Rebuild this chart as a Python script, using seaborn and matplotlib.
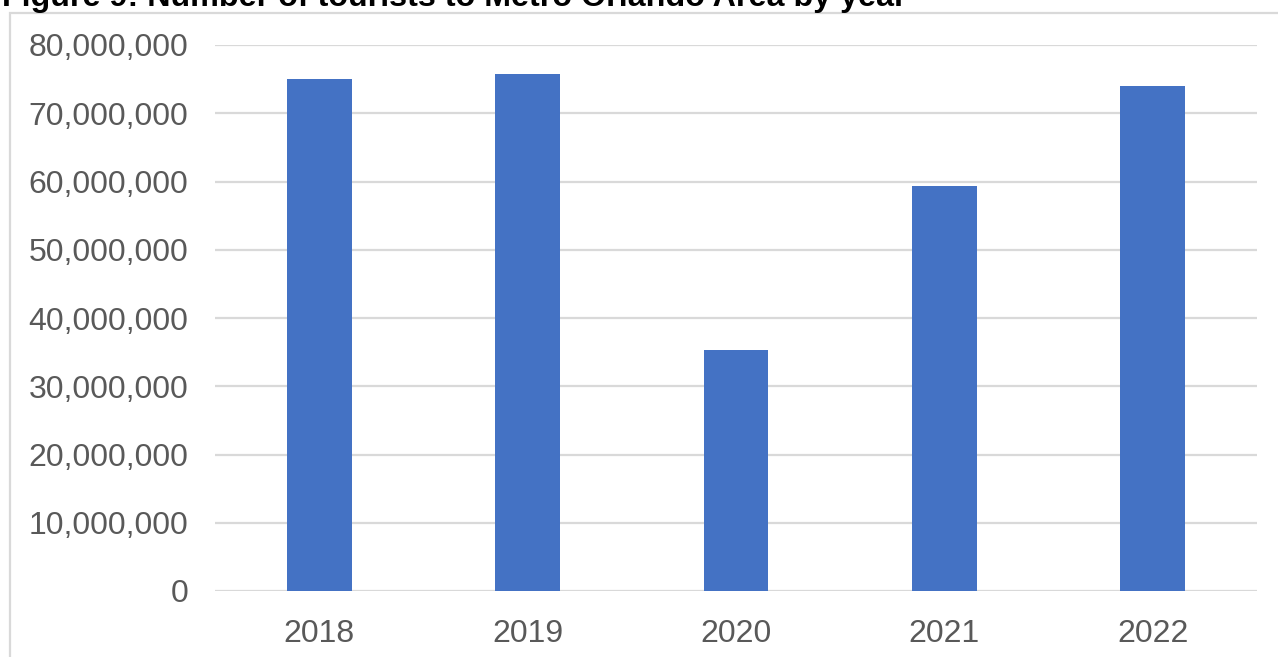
import matplotlib
matplotlib.use("Agg")
import matplotlib.pyplot as plt
import matplotlib.patches as mpatches
from matplotlib.ticker import FuncFormatter
import seaborn as sns
import pandas as pd

years = ["2018", "2019", "2020", "2021", "2022"]
tourists = [75_000_000, 75_800_000, 35_300_000, 59_300_000, 74_000_000]
y_ticks = [0, 10_000_000, 20_000_000, 30_000_000, 40_000_000,
           50_000_000, 60_000_000, 70_000_000, 80_000_000]
title = "Figure 9: Number of tourists to Metro Orlando Area by year"

df = pd.DataFrame({"year": years, "tourists": tourists})

sns.set_theme(style="white")
plt.rcParams["font.family"] = ["Liberation Sans", "DejaVu Sans"]

W, H = 1278, 657
fig = plt.figure(figsize=(W / 100, H / 100), dpi=100)
ax = fig.add_axes([215 / W, 1 - 591 / H, (1257 - 215) / W, (591 - 45) / H])

sns.barplot(data=df, x="year", y="tourists", color="#4472C4", saturation=1,
            width=0.31, ax=ax, zorder=3, edgecolor="#4472C4", linewidth=0)

ax.set_ylim(0, 80_000_000)
ax.set_xlim(-0.5, len(years) - 0.5)
ax.set_yticks(y_ticks)
ax.yaxis.set_major_formatter(FuncFormatter(lambda v, p: f"{int(v):,}"))
ax.grid(axis="y", color="#d9d9d9", linewidth=1.6, zorder=0)
ax.grid(axis="x", visible=False)
for s in ax.spines.values():
    s.set_visible(False)
ax.tick_params(axis="both", length=0, labelsize=23, labelcolor="#595959")
ax.tick_params(axis="y", pad=19)
ax.tick_params(axis="x", pad=20)
ax.set_xlabel("")
ax.set_ylabel("")

# outer chart frame
fig.patches.append(mpatches.Rectangle((10 / W, -0.2), 1.5, 1 - 13 / H + 0.2,
                                      transform=fig.transFigure, fill=False,
                                      edgecolor="#d9d9d9", linewidth=1.6))

fig.text(2 / W, 1 - 6 / H, title, fontsize=23.2, fontweight="bold",
         color="black", ha="left", va="baseline")

fig.savefig("out.png", dpi=100)
